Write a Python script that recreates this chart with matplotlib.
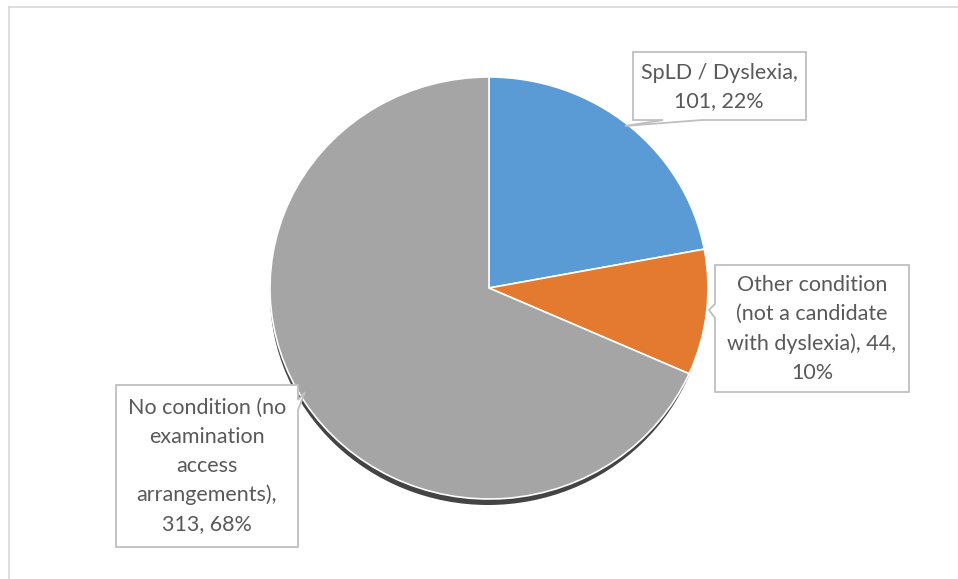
import matplotlib
matplotlib.use("Agg")
import matplotlib.pyplot as plt
from matplotlib.patches import Ellipse, Polygon

# ── Data ──────────────────────────────────────────────────────────────────────
categories = ["SpLD / Dyslexia",
              "Other condition (not a candidate with dyslexia)",
              "No condition (no examination access arrangements)"]
counts = [101, 44, 313]
percents = [22, 10, 68]
label_lines = ["SpLD / Dyslexia,\n101, 22%",
               "Other condition\n(not a candidate\nwith dyslexia), 44,\n10%",
               "No condition (no\nexamination\naccess\narrangements),\n313, 68%"]
colors = ["#5B9BD5", "#E37A2F", "#A5A5A5"]

W, H = 958, 579
fig = plt.figure(figsize=(W / 100, H / 100), dpi=100)
fig.patch.set_facecolor("white")

# pie placement in pixels
cx, cy, rx, ry = 489, 288, 219, 211
pie_ax = fig.add_axes([(cx - rx) / W, 1 - (cy + ry) / H, 2 * rx / W, 2 * ry / H])
pie_ax.pie(counts, colors=colors, startangle=90, counterclock=False,
           wedgeprops=dict(edgecolor="white", linewidth=1.2))
pie_ax.set_aspect("auto")
pie_ax.set_xlim(-1, 1)
pie_ax.set_ylim(-1, 1)
pie_ax.axis("off")
for w in pie_ax.patches:
    w.set_zorder(2)
# shadow under the pie, mostly visible along the bottom
pie_ax.add_patch(Ellipse((-1 / rx, -6 / ry), 2 - 2 / rx, 2, facecolor="#444444",
                         edgecolor="none", zorder=0, clip_on=False))

# overlay axes in pixel coordinates for frame + callouts
ov = fig.add_axes([0, 0, 1, 1], zorder=5)
ov.set_xlim(0, W)
ov.set_ylim(H, 0)
ov.axis("off")

# chart area border (top + left visible)
ov.plot([9, W], [7, 7], color="#D9D9D9", linewidth=1.2)
ov.plot([9, 9], [7, H], color="#D9D9D9", linewidth=1.2)

# callout shapes (box with a pointer tail)
callouts = [
    [(633, 52), (806, 52), (806, 120), (702, 120), (625, 126), (663, 120), (633, 120)],
    [(715, 265), (909, 265), (909, 392), (715, 392), (715, 318), (709, 310), (715, 304)],
    [(116, 385), (298, 385), (298, 400), (305, 392), (298, 410), (298, 547), (116, 547)],
]
text_pos = [(719, 87), (812, 329), (207, 466)]

for shape, (tx, ty), txt in zip(callouts, text_pos, label_lines):
    ov.add_patch(Polygon(shape, closed=True, facecolor="white",
                         edgecolor="#BFBFBF", linewidth=1.3))
    ov.text(tx, ty, txt, ha="center", va="center", fontsize=15.5,
            family="Lato", color="#595959", linespacing=1.55)

fig.savefig("out.png", dpi=100, facecolor="white")
